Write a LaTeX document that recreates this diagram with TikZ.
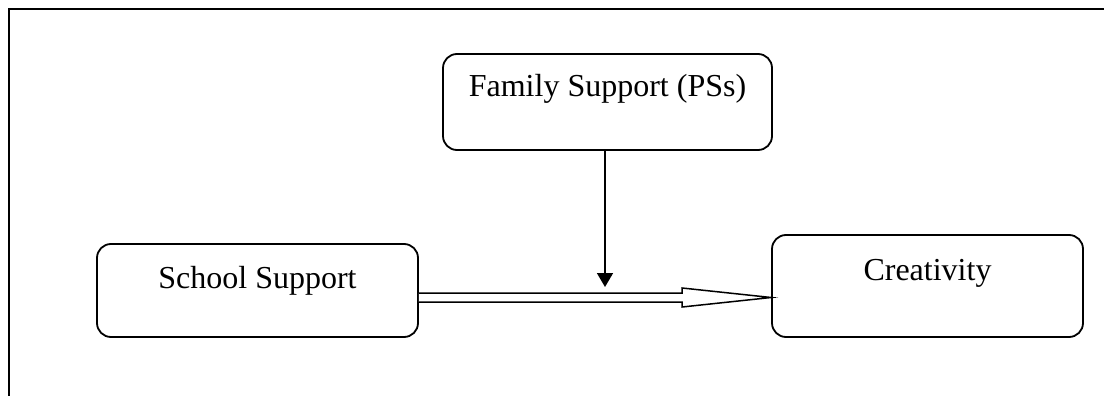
\documentclass[tikz,border=0pt]{standalone}
\usepackage{fontspec}
\setmainfont{Liberation Serif}
\usetikzlibrary{arrows.meta,calc}

\tikzset{
  box/.style={draw, line width=1.8pt, rounded corners=14pt, inner xsep=0pt,
    inner ysep=0pt, align=center, font=\fontsize{32}{38}\selectfont},
  frameline/.style={line width=2.4pt},
  modarrow/.style={line width=1.7pt, -{Triangle[length=14pt,width=16pt]}},
  blockarrow/.style={line width=1.5pt, fill=white, line join=miter},
}

\begin{document}
\begin{tikzpicture}[x=1pt,y=-1pt]
  \useasboundingbox (0,0) rectangle (1104,396);

  % open frame along the top and left edges
  \draw[frameline] (1104,9) -- (9,9) -- (9,396);

  % the three boxes; text height/depth set the baseline inside each box
  \node[box, minimum width=329pt, text height=43pt, text depth=53pt]
    (family) at (607.5,102) {Family Support (PSs)};
  \node[box, minimum width=321pt, text height=44pt, text depth=49pt]
    (school) at (257.5,290.5) {School Support};
  \node[box, minimum width=311pt, text height=45pt, text depth=57pt]
    (creat) at (927.5,286) {Creativity};

  % tip of the block arrow on the left side of the Creativity box
  \path (creat.west) ++(0,11.5) coordinate (tip);

  % block arrow from School Support to Creativity
  \draw[blockarrow]
    ($(school.east |- tip)+(0,-4.5)$) -- ($(tip)+(-89,-4.5)$)
    -- ($(tip)+(-89,-9.5)$) -- (tip) -- ($(tip)+(-89,9.5)$)
    -- ($(tip)+(-89,4.5)$) -- ($(school.east |- tip)+(0,4.5)$);

  % moderating arrow from Family Support onto the path
  \draw[modarrow] ([xshift=-2.5pt]family.south)
    -- ($([xshift=-2.5pt]family.south |- tip)+(0,-10.5)$);
\end{tikzpicture}
\end{document}
